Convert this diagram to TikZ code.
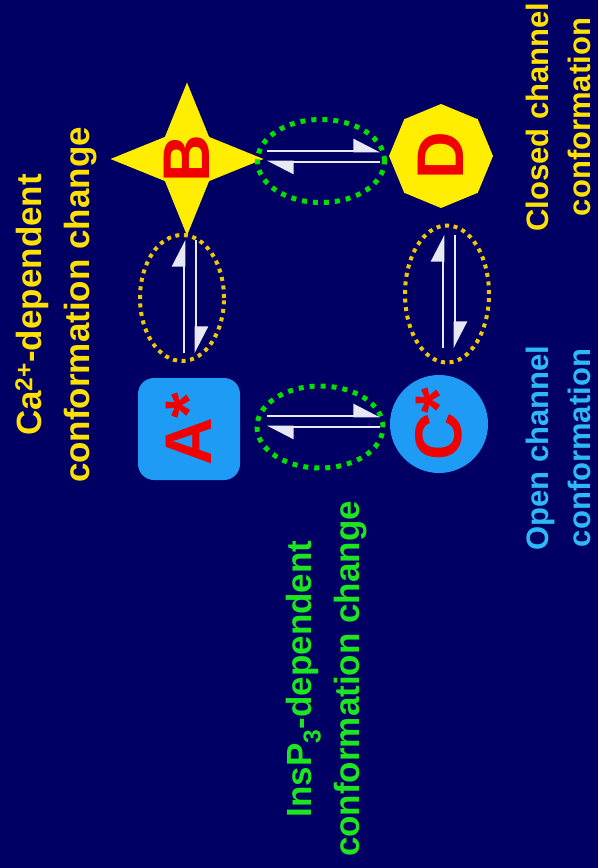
\documentclass[tikz,border=0pt]{standalone}
\usepackage{fontspec}
\setmainfont{Liberation Sans}
\usetikzlibrary{arrows.meta,shapes.geometric}
\definecolor{bg}{RGB}{0,0,100}
\definecolor{shapeblue}{RGB}{30,155,245}
\definecolor{textblue}{RGB}{45,185,245}
\definecolor{shapeyellow}{RGB}{255,238,0}
\definecolor{textyellow}{RGB}{255,225,0}
\definecolor{dotyellow}{RGB}{240,200,0}
\definecolor{dotgreen}{RGB}{0,225,0}
\definecolor{textgreen}{RGB}{30,230,30}
\definecolor{letterred}{RGB}{240,0,0}
\definecolor{arrowc}{RGB}{232,232,242}
\begin{document}
\begin{tikzpicture}[x=1pt,y=-1pt,
  letter/.style={rotate=90, text=letterred, font=\bfseries\fontsize{66}{70}\selectfont, inner sep=0pt},
  greenring/.style={ellipse, draw=dotgreen, line width=5pt, dash pattern=on 5pt off 6pt, inner sep=0pt},
  yellowring/.style={ellipse, draw=dotyellow, line width=4pt, dash pattern=on 4pt off 4.6pt, inner sep=0pt},
  halfarrow/.style={draw=arrowc, line width=2.6pt, -{Triangle[harpoon,length=24pt,width=24pt]}},
  biglabel/.style={rotate=90, align=center, inner sep=0pt, font=\bfseries\fontsize{35}{48}\selectfont},
  smalllabel/.style={rotate=90, align=center, inner sep=0pt, font=\bfseries\fontsize{31}{42}\selectfont}]
\fill[bg] (0,0) rectangle (598,868);
\useasboundingbox (0,0) rectangle (598,868);
% states
\node[letter, fill=shapeblue, rectangle, rounded corners=16pt, minimum size=102pt] (A) at (189,429) {A*};
\node[letter, fill=shapeyellow, star, star points=4, star point ratio=2.45, minimum size=153pt, inner sep=-30pt] (B) at (187,159) {B};
\node[letter, fill=shapeblue, circle, minimum size=98pt] (C) at (439,424) {C*};
\node[letter, fill=shapeyellow, regular polygon, regular polygon sides=8, shape border rotate=22.5, minimum size=104pt] (D) at (441,156) {D};
% rings
\node[greenring, minimum width=127pt, minimum height=83pt] (eBD) at (321,161) {};
\node[greenring, minimum width=126pt, minimum height=82pt] (eAC) at (320,427) {};
\node[yellowring, minimum width=84pt, minimum height=126pt] (eAB) at (182,298) {};
\node[yellowring, minimum width=84pt, minimum height=137pt] (eCD) at (447,294) {};
% equilibrium arrows
\coordinate (bd1) at (267,151); \coordinate (bd2) at (380,151);
\coordinate (bd3) at (380,162); \coordinate (bd4) at (267,162);
\draw[halfarrow] (bd1) -- (bd2);
\draw[halfarrow] (bd3) -- (bd4);
\coordinate (ac1) at (267,416); \coordinate (ac2) at (380,416);
\coordinate (ac3) at (380,427); \coordinate (ac4) at (267,427);
\draw[halfarrow] (ac1) -- (ac2);
\draw[halfarrow] (ac3) -- (ac4);
\coordinate (ab1) at (184,353); \coordinate (ab2) at (184,240);
\coordinate (ab3) at (196,240); \coordinate (ab4) at (196,353);
\draw[halfarrow] (ab1) -- (ab2);
\draw[halfarrow] (ab3) -- (ab4);
\coordinate (cd1) at (443,348); \coordinate (cd2) at (443,235);
\coordinate (cd3) at (455,235); \coordinate (cd4) at (455,348);
\draw[halfarrow] (cd1) -- (cd2);
\draw[halfarrow] (cd3) -- (cd4);
% labels
\node[biglabel, text=textyellow] (lCa) at (56,305) {Ca\textsuperscript{2+}-dependent\\conformation change};
\node[biglabel, text=textgreen] (lIns) at (327,679) {InsP\textsubscript{3}-dependent\\conformation change};
\node[smalllabel, text=textyellow] (lClosed) at (558,117) {Closed channel\\conformation};
\node[smalllabel, text=textblue] (lOpen) at (558,448) {Open channel\\conformation};
\end{tikzpicture}
\end{document}
